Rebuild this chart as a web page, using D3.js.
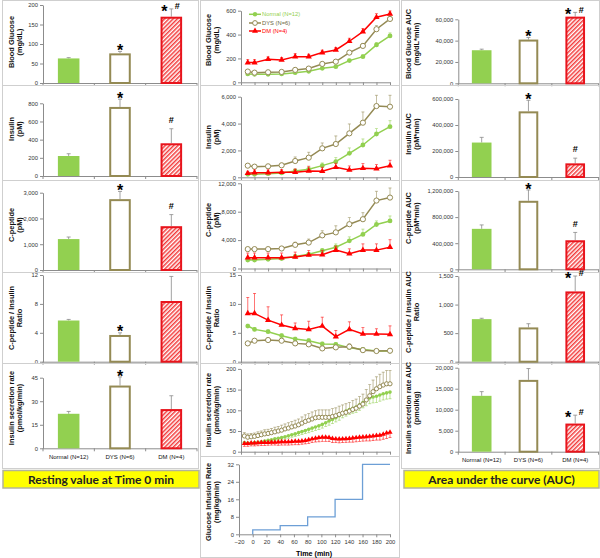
<!DOCTYPE html>
<html><head><meta charset="utf-8">
<script src="https://cdn.jsdelivr.net/npm/d3@7"></script>
<style>
body{margin:0;background:#fff;}
svg{display:block;font-family:"Liberation Sans",Arial,sans-serif;}
</style></head><body>
<svg id="c" width="600" height="558"></svg>
<script>
// ---------- DATA ----------
const groups = ["Normal (N=12)", "DYS (N=6)", "DM (N=4)"];

// Resting values at time 0
const restGlucose = [63, 76, 170], restGlucoseErr = [2, 5, 20], restGlucoseMarks = ["", "*", "*#"];
const restInsulin = [220, 760, 360], restInsulinErr = [25, 85, 160], restInsulinMarks = ["", "*", "#"];
const restCpep = [1200, 2750, 1700], restCpepErr = [80, 300, 450], restCpepMarks = ["", "*", "#"];
const restRatio = [5.7, 3.7, 8.4], restRatioErr = [0.15, 0.3, 3.4], restRatioMarks = ["", "*", ""];
const restISR = [22, 40, 25], restISRErr = [1.5, 5.5, 8.5], restISRMarks = ["", "*", ""];

// Area under the curve
const aucGlucose = [31000, 41000, 62500], aucGlucoseErr = [1000, 2000, 4000], aucGlucoseMarks = ["", "*", "*#"];
const aucInsulin = [265000, 505000, 105000], aucInsulinErr = [40000, 85000, 40000], aucInsulinMarks = ["", "*", "#"];
const aucCpep = [620000, 1050000, 445000], aucCpepErr = [60000, 166000, 120000], aucCpepMarks = ["", "*", "#"];
const aucRatio = [745, 600, 1230], aucRatioErr = [15, 65, 270], aucRatioMarks = ["", "", "*#"];
const aucISR = [13300, 17100, 6700], aucISRErr = [1000, 2700, 2000], aucISRMarks = ["", "", "*#"];

// Time courses
const times = [-10, 0, 20, 40, 60, 80, 100, 120, 140, 160, 180, 200];
const gluN = [70, 67, 67, 70, 81, 92, 117, 131, 182, 215, 313, 389];
const gluD = [90, 81, 84, 87, 104, 115, 154, 173, 249, 305, 445, 531];
const gluM = [165, 165, 193, 187, 215, 215, 249, 271, 344, 425, 545, 573];
const gluErrN = [5, 5, 5, 5, 8, 8, 10, 10, 12, 15, 20, 25];
const gluErrD = [10, 10, 10, 10, 12, 12, 15, 15, 18, 20, 30, 25];
const gluErrM = [25, 25, 20, 20, 25, 20, 20, 20, 25, 25, 30, 25];

const insN = [223, 223, 273, 322, 471, 595, 867, 1165, 1785, 2404, 3222, 3767];
const insD = [867, 793, 818, 892, 1214, 1462, 2156, 2478, 3271, 4064, 5303, 5254];
const insM = [297, 347, 347, 372, 372, 471, 446, 743, 545, 669, 644, 867];
const insErrN = [40, 40, 60, 80, 100, 150, 200, 300, 400, 450, 400, 450];
const insErrD = [100, 100, 100, 150, 300, 400, 400, 600, 700, 800, 800, 850];
const insErrM = [150, 200, 200, 200, 250, 350, 300, 300, 300, 350, 300, 400];

const cpN = [1200, 1200, 1300, 1400, 1700, 2000, 2500, 3000, 3900, 4800, 6200, 6700];
const cpD = [2730, 2730, 2730, 2820, 3330, 3650, 4670, 5090, 6240, 6940, 9570, 9990];
const cpM = [1530, 1530, 1530, 1530, 1620, 1900, 1940, 2590, 2080, 2590, 2590, 3000];
const cpErrN = [100, 100, 100, 150, 200, 250, 300, 460, 550, 740, 500, 700];
const cpErrD = [150, 150, 150, 200, 370, 500, 650, 925, 925, 925, 1300, 1350];
const cpErrM = [650, 650, 650, 650, 690, 650, 600, 555, 690, 880, 880, 1060];

const rtN = [6.17, 5.59, 5.19, 4.5, 3.92, 3.63, 3.06, 3.0, 2.42, 2.13, 1.85, 1.85];
const rtD = [3.17, 3.63, 3.75, 3.63, 3.17, 3.0, 2.3, 2.48, 2.6, 2.0, 1.85, 1.9];
const rtM = [8.36, 8.36, 7.2, 6.34, 5.77, 5.59, 6.17, 4.33, 5.59, 4.79, 4.79, 4.73];
const rtErrN = [0.3, 0.3, 0.3, 0.3, 0.3, 0.3, 0.3, 0.3, 0.3, 0.2, 0.2, 0.2];
const rtErrD = [0.3, 0.3, 0.3, 0.3, 0.3, 0.3, 0.3, 0.3, 0.5, 0.3, 0.2, 0.2];
const rtErrM = [2.74, 3.44, 2.3, 1.76, 0.93, 1.41, 1.53, 1.07, 1.31, 1.11, 0.91, 1.47];

const isrTimes = [-15, -10, -5, 0, 5, 10, 15, 20, 25, 30, 35, 40, 45, 50, 55, 60, 65, 70, 75, 80, 85, 90,
  95, 100, 105, 110, 115, 120, 125, 130, 135, 140, 145, 150, 155, 160, 165, 170, 175, 180, 185, 190, 195, 200];
const isrN = [22, 21, 21, 22, 23, 24, 26, 27.5, 29, 31, 32.5, 34, 36, 38.5, 41, 43, 46, 48.5, 51, 54, 57, 59.5,
  62.5, 66, 70, 74, 78, 82, 87, 93, 98, 102, 105, 108, 113, 119, 125, 130, 132, 134, 137, 140, 142, 144];
const isrD = [38, 35, 36, 37, 39, 41, 43, 44, 46, 48, 50, 52, 55, 57, 60, 62, 65, 69, 73, 76, 79, 82,
  83, 83, 83, 83, 85, 87, 90, 93, 95, 98, 102, 105, 110, 115, 125, 135, 145, 152, 157, 161, 164, 164];
const isrM = [20, 20, 21, 21, 21.5, 22, 22, 22.5, 23, 23, 23.5, 24, 24, 24, 24.5, 25, 25, 26, 27, 29, 31, 32.5,
  34, 35, 35, 34.5, 32, 31, 30.5, 31, 31.5, 32, 33, 34, 35, 35.5, 36, 37, 38, 39, 40, 42, 45, 47];
const isrErrN = [3, 3, 3, 3, 3, 3, 4, 4, 4, 4, 5, 5, 5, 6, 6, 6, 7, 7, 7, 8, 8, 8,
  9, 9, 9, 10, 10, 10, 11, 11, 12, 12, 12, 13, 13, 13, 14, 14, 14, 15, 15, 15, 15, 16];
const isrErrD = [8, 8, 8, 8, 9, 9, 10, 10, 10, 11, 11, 12, 12, 13, 13, 14, 14, 15, 16, 16, 17, 17,
  18, 18, 18, 18, 19, 19, 20, 20, 21, 21, 22, 22, 23, 24, 25, 27, 28, 29, 30, 31, 32, 32];
const isrErrM = [7, 7, 7, 7, 7, 7, 7, 7, 7, 7, 8, 8, 8, 8, 8, 8, 8, 8, 8, 9, 9, 9,
  10, 10, 10, 10, 10, 9, 9, 9, 9, 9, 10, 10, 10, 10, 10, 11, 11, 11, 12, 12, 13, 13];

const girTime = [0, 0, 40, 40, 80, 80, 120, 120, 160, 160, 200];
const girRate = [0, 2, 2, 4, 4, 8, 8, 16, 16, 32, 32];
const timeTicks = [-20, 0, 20, 40, 60, 80, 100, 120, 140, 160, 180, 200];

// ---------- DRAWING ----------
const C = {N: "#92d050", D: "#948a54", M: "#ff0000"};
const svg = d3.select("#c");
const defs = svg.append("defs");
const pat = defs.append("pattern").attr("id", "hatch").attr("patternUnits", "userSpaceOnUse")
  .attr("width", 3).attr("height", 3).attr("patternTransform", "rotate(45)");
pat.append("rect").attr("width", 3).attr("height", 3).attr("fill", "#fff");
pat.append("line").attr("x1", 0.75).attr("y1", 0).attr("x2", 0.75).attr("y2", 3)
  .attr("stroke", "#f23a3a").attr("stroke-width", 1.5);

function frame(x, y, w, h) {
  svg.append("rect").attr("x", x + 0.5).attr("y", y + 0.5).attr("width", w).attr("height", h)
    .attr("fill", "none").attr("stroke", "#cfcfcf").attr("stroke-width", 1);
}
function yTitle(lines, xs, yc) {
  lines.forEach((t, i) => svg.append("text")
    .attr("transform", `translate(${xs[i]},${yc}) rotate(-90)`)
    .attr("text-anchor", "middle").attr("dominant-baseline", "central")
    .style("font-size", "7.4px").style("font-weight", "bold").attr("fill", "#111").text(t));
}
function yAxis(y, ax, ticks, fmt) {
  svg.append("g").attr("transform", `translate(${ax},0)`)
    .call(d3.axisLeft(y).tickValues(ticks).tickFormat(fmt).tickSize(3).tickSizeOuter(0))
    .call(s => {
      s.selectAll("path,line").attr("stroke", "#8c8c8c");
      s.selectAll("text").attr("fill", "#333").style("font-size", "5.8px").attr("x", -5);
    });
}
const fmtC = d3.format(",");

function barPanel(o) {
  frame(o.fx, o.fy, o.fw, o.fh);
  const y = d3.scaleLinear().domain([0, o.max]).range([o.y0, o.yTop]);
  const xb = d3.scaleBand().domain(groups).range([o.x0, o.x1]);
  const bw = xb.bandwidth() * 0.42;
  const cx = i => xb(groups[i]) + xb.bandwidth() / 2;
  yAxis(y, o.x0, o.ticks, o.fmt || fmtC);
  const g = svg.append("g");
  g.append("line").attr("x1", o.x0).attr("x2", o.x1).attr("y1", o.y0 + 0.5).attr("y2", o.y0 + 0.5).attr("stroke", "#8c8c8c");
  groups.concat([null]).forEach((c, i) => {
    const xx = c ? xb(c) : o.x1;
    g.append("line").attr("x1", xx).attr("x2", xx).attr("y1", o.y0).attr("y2", o.y0 + 3).attr("stroke", "#8c8c8c");
  });
  const styles = [
    {fill: C.N, stroke: "none", sw: 0},
    {fill: "#fff", stroke: C.D, sw: 2},
    {fill: "url(#hatch)", stroke: "#e8141c", sw: 2}
  ];
  o.vals.forEach((v, i) => {
    const t = y(v + o.errs[i]);
    g.append("line").attr("x1", cx(i)).attr("x2", cx(i)).attr("y1", y(v)).attr("y2", t).attr("stroke", "#8a8a8a").attr("stroke-width", 0.8);
    g.append("line").attr("x1", cx(i) - 2).attr("x2", cx(i) + 2).attr("y1", t).attr("y2", t).attr("stroke", "#8a8a8a").attr("stroke-width", 0.8);
  });
  g.selectAll("rect.bar").data(o.vals).join("rect").attr("class", "bar")
    .attr("x", (d, i) => cx(i) - bw / 2 + styles[i].sw / 2)
    .attr("y", (d, i) => y(d) + styles[i].sw / 2)
    .attr("width", (d, i) => bw - styles[i].sw)
    .attr("height", (d, i) => o.y0 - y(d) - styles[i].sw / 2)
    .attr("fill", (d, i) => styles[i].fill).attr("stroke", (d, i) => styles[i].stroke)
    .attr("stroke-width", (d, i) => styles[i].sw);
  o.marks.forEach((m, i) => {
    if (!m) return;
    const t = y(o.vals[i] + o.errs[i]);
    const star = (x, c) => g.append("text").attr("x", x).attr("y", c + 9.1).attr("text-anchor", "middle")
      .style("font-size", "16px").style("font-weight", "bold").text("*");
    const hash = (x, c) => g.append("text").attr("x", x).attr("y", c + 3.2).attr("text-anchor", "middle")
      .style("font-size", "9px").style("font-weight", "bold").text("#");
    if (m === "*") star(cx(i), t - 4.5);
    else if (m === "#") hash(cx(i), t - 9);
    else { star(cx(i) - 7, t - 1); hash(cx(i) + 6, t - 3); }
  });
  if (o.labelY) {
    groups.forEach((c, i) => g.append("text").attr("x", cx(i)).attr("y", o.labelY).attr("text-anchor", "middle")
      .attr("dominant-baseline", "central").style("font-size", "6px").attr("fill", "#111").text(c));
  }
  yTitle(o.title, o.tx, o.tyc);
}

const xT = d3.scaleLinear().domain([-20, 200]).range([241, 390]);

function drawSeries(g, x, y, tArr, vals, errs, dir, color, marker, ms, lw) {
  vals.forEach((v, i) => {
    const t = y(v + dir * errs[i]);
    g.append("line").attr("x1", x(tArr[i])).attr("x2", x(tArr[i])).attr("y1", y(v)).attr("y2", t)
      .attr("stroke", color).attr("stroke-width", 0.7).attr("opacity", 0.8);
    g.append("line").attr("x1", x(tArr[i]) - 1.5).attr("x2", x(tArr[i]) + 1.5).attr("y1", t).attr("y2", t)
      .attr("stroke", color).attr("stroke-width", 0.7).attr("opacity", 0.8);
  });
  const line = d3.line().x((d, i) => x(tArr[i])).y(d => y(d));
  g.append("path").attr("d", line(vals)).attr("fill", "none").attr("stroke", color).attr("stroke-width", lw);
  vals.forEach((v, i) => drawMarker(g, x(tArr[i]), y(v), color, marker, ms));
}
function drawMarker(g, px, py, color, marker, ms) {
  if (marker === "open") g.append("circle").attr("cx", px).attr("cy", py).attr("r", ms).attr("fill", "#fff").attr("stroke", color).attr("stroke-width", 1);
  else if (marker === "dot") g.append("circle").attr("cx", px).attr("cy", py).attr("r", ms).attr("fill", color);
  else g.append("path").attr("transform", `translate(${px},${py})`).attr("d", d3.symbol(d3.symbolTriangle, ms * ms * 3.2)()).attr("fill", color);
}

function linePanel(o) {
  frame(o.fx, o.fy, o.fw, o.fh);
  const x = o.x || xT;
  const y = d3.scaleLinear().domain([0, o.max]).range([o.y0, o.yTop]);
  yAxis(y, x.range()[0], o.ticks, o.fmt || fmtC);
  svg.append("g").attr("transform", `translate(0,${o.y0})`)
    .call(d3.axisBottom(x).tickValues(timeTicks).tickSize(3).tickSizeOuter(0).tickFormat(o.xlabels ? d3.format("d") : ""))
    .call(s => {
      s.selectAll("path,line").attr("stroke", "#8c8c8c");
      s.selectAll("text").attr("fill", "#333").style("font-size", "5.8px").attr("y", 6);
    });
  const g = svg.append("g");
  o.draw(g, x, y);
  yTitle(o.title, [208, 216], o.tyc);
}

// ---- Left column: resting values ----
const L = {fx: 2, fw: 196, x0: 43, x1: 197, tx: [11, 19]};
barPanel({...L, fy: 0, fh: 85, y0: 83, yTop: 5, max: 200, ticks: [0, 50, 100, 150, 200],
  vals: restGlucose, errs: restGlucoseErr, marks: restGlucoseMarks, title: ["Blood Glucose", "(mg/dL)"], tyc: 42});
barPanel({...L, fy: 85, fh: 95, y0: 176, yTop: 103.3, max: 800, ticks: [0, 200, 400, 600, 800],
  vals: restInsulin, errs: restInsulinErr, marks: restInsulinMarks, title: ["Insulin", "(pM)"], tyc: 129});
barPanel({...L, fy: 180, fh: 92, y0: 270, yTop: 192.7, max: 3000, ticks: [0, 1000, 2000, 3000],
  vals: restCpep, errs: restCpepErr, marks: restCpepMarks, title: ["C-peptide", "(pM)"], tyc: 225});
barPanel({...L, fy: 272, fh: 91, y0: 361.7, yTop: 275, max: 12, ticks: [0, 4, 8, 12],
  vals: restRatio, errs: restRatioErr, marks: restRatioMarks, title: ["C-peptide / Insulin", "Ratio"], tyc: 318});
barPanel({...L, fy: 363, fh: 105, y0: 448.3, yTop: 377.7, max: 45, ticks: [0, 15, 30, 45],
  vals: restISR, errs: restISRErr, marks: restISRMarks, title: ["Insulin secretion rate", "(pmol/kg/min)"], tyc: 408, labelY: 457});

// ---- Right column: AUC ----
const R = {fx: 401, fw: 198, x0: 458.3, x1: 598.6, tx: [408, 416]};
barPanel({...R, fy: 0, fh: 85, y0: 83.3, yTop: 19.3, max: 60000, ticks: [0, 20000, 40000, 60000],
  vals: aucGlucose, errs: aucGlucoseErr, marks: aucGlucoseMarks, title: ["Blood Glucose AUC", "(mg/dL*min)"], tyc: 44});
barPanel({...R, fy: 85, fh: 95, y0: 177, yTop: 99, max: 600000, ticks: [0, 200000, 400000, 600000],
  vals: aucInsulin, errs: aucInsulinErr, marks: aucInsulinMarks, title: ["Insulin AUC", "(pM*min)"], tyc: 134});
barPanel({...R, fy: 180, fh: 92, y0: 269.3, yTop: 191, max: 1200000, ticks: [0, 400000, 800000, 1200000],
  vals: aucCpep, errs: aucCpepErr, marks: aucCpepMarks, title: ["C-peptide AUC", "(pM*min)"], tyc: 218});
barPanel({...R, fy: 272, fh: 91, y0: 361.7, yTop: 276, max: 1500, ticks: [0, 500, 1000, 1500],
  vals: aucRatio, errs: aucRatioErr, marks: aucRatioMarks, title: ["C-peptide / Insulin AUC", "Ratio"], tyc: 312});
barPanel({...R, fy: 363, fh: 105, y0: 451.7, yTop: 367.7, max: 20000, ticks: [0, 5000, 10000, 15000, 20000],
  vals: aucISR, errs: aucISRErr, marks: aucISRMarks, title: ["Insulin secretion rate AUC", "(pmol/kg)"], tyc: 408, labelY: 460});

// ---- Middle column: time courses ----
const M = {fx: 200, fw: 199};
function three(nv, ne, dv, de, mv, me, dirs, small) {
  return (g, x, y) => {
    const s = small ? [1.8, 2.1, 1.9, 1.1] : [2.4, 2.6, 2.3, 1.5];
    drawSeries(g, x, y, small ? isrTimes : times, nv, ne, dirs[0], C.N, "dot", s[0], s[3]);
    drawSeries(g, x, y, small ? isrTimes : times, dv, de, dirs[1], C.D, "open", s[1], s[3]);
    drawSeries(g, x, y, small ? isrTimes : times, mv, me, dirs[2], C.M, "tri", s[2], s[3]);
  };
}
linePanel({...M, fy: 0, fh: 85, y0: 82.3, yTop: 10.7, max: 600, ticks: [0, 200, 400, 600],
  draw: three(gluN, gluErrN, gluD, gluErrD, gluM, gluErrM, [1, 1, 1]), title: ["Blood Glucose", "(mg/dL)"], tyc: 40});
linePanel({...M, fy: 85, fh: 95, y0: 177.3, yTop: 96.7, max: 6000, ticks: [0, 2000, 4000, 6000],
  draw: three(insN, insErrN, insD, insErrD, insM, insErrM, [1, 1, 1]), title: ["Insulin", "(pM)"], tyc: 137});
linePanel({...M, fy: 180, fh: 92, y0: 268.5, yTop: 183.3, max: 12000, ticks: [0, 4000, 8000, 12000],
  draw: three(cpN, cpErrN, cpD, cpErrD, cpM, cpErrM, [1, 1, 1]), title: ["C-peptide", "(pM)"], tyc: 220});
linePanel({...M, fy: 272, fh: 91, y0: 361.7, yTop: 275, max: 15, ticks: [0, 5, 10, 15],
  draw: three(rtN, rtErrN, rtD, rtErrD, rtM, rtErrM, [1, 1, 1]), title: ["C-peptide / Insulin", "Ratio"], tyc: 318});
linePanel({...M, fy: 363, fh: 93, y0: 451.7, yTop: 368.9, max: 200, ticks: [0, 50, 100, 150, 200],
  draw: three(isrN, isrErrN, isrD, isrErrD, isrM, isrErrM, [-1, 1, -1], true), title: ["Insulin secretion rate", "(pmol/kg/min)"], tyc: 410});
const xG = d3.scaleLinear().domain([-20, 200]).range([239, 390]);
linePanel({...M, fy: 456, fh: 101, y0: 534.3, yTop: 464.3, max: 32, ticks: [0, 8, 16, 24, 32], x: xG, xlabels: true,
  draw: (g, x, y) => {
    const ln = d3.line().x((d, i) => x(girTime[i])).y(d => y(d));
    g.append("path").attr("d", ln(girRate)).attr("fill", "none").attr("stroke", "#6d9fd6").attr("stroke-width", 1.3);
  }, title: ["Glucose Infusion Rate", "(mg/kg/min)"], tyc: 502});
svg.append("text").attr("x", 314).attr("y", 553).attr("text-anchor", "middle").attr("dominant-baseline", "central")
  .style("font-size", "7.2px").style("font-weight", "bold").text("Time (min)");

// legend in glucose panel
const legY = [14.3, 23, 31];
const legStyle = [[C.N, "dot", 2.2], [C.D, "open", 2.4], [C.M, "tri", 2.2]];
groups.forEach((name, i) => {
  const [col, mk, ms] = legStyle[i];
  svg.append("line").attr("x1", 249).attr("x2", 261).attr("y1", legY[i]).attr("y2", legY[i]).attr("stroke", col).attr("stroke-width", 1.5);
  drawMarker(svg, 255, legY[i], col, mk, ms);
  svg.append("text").attr("x", 262).attr("y", legY[i]).attr("dominant-baseline", "central")
    .style("font-size", "5.8px").attr("fill", i === 1 ? "#6b6540" : col).text(name);
});

// ---- Yellow captions ----
function caption(x, y, w, h, t) {
  svg.append("rect").attr("x", x).attr("y", y).attr("width", w).attr("height", h)
    .attr("fill", "#ffff00").attr("stroke", "#b4b49a").attr("stroke-width", 1.5);
  svg.append("text").attr("x", x + w / 2).attr("y", y + h / 2 + 0.5).attr("text-anchor", "middle").attr("dominant-baseline", "central")
    .style("font-family", "Lato, 'Open Sans', sans-serif").style("font-size", "12px").style("font-weight", "bold").attr("fill", "#222").text(t);
}
caption(3, 470.5, 196, 17.5, "Resting value at Time 0 min");
caption(404, 470.5, 195, 17.5, "Area under the curve (AUC)");
</script></body></html>
